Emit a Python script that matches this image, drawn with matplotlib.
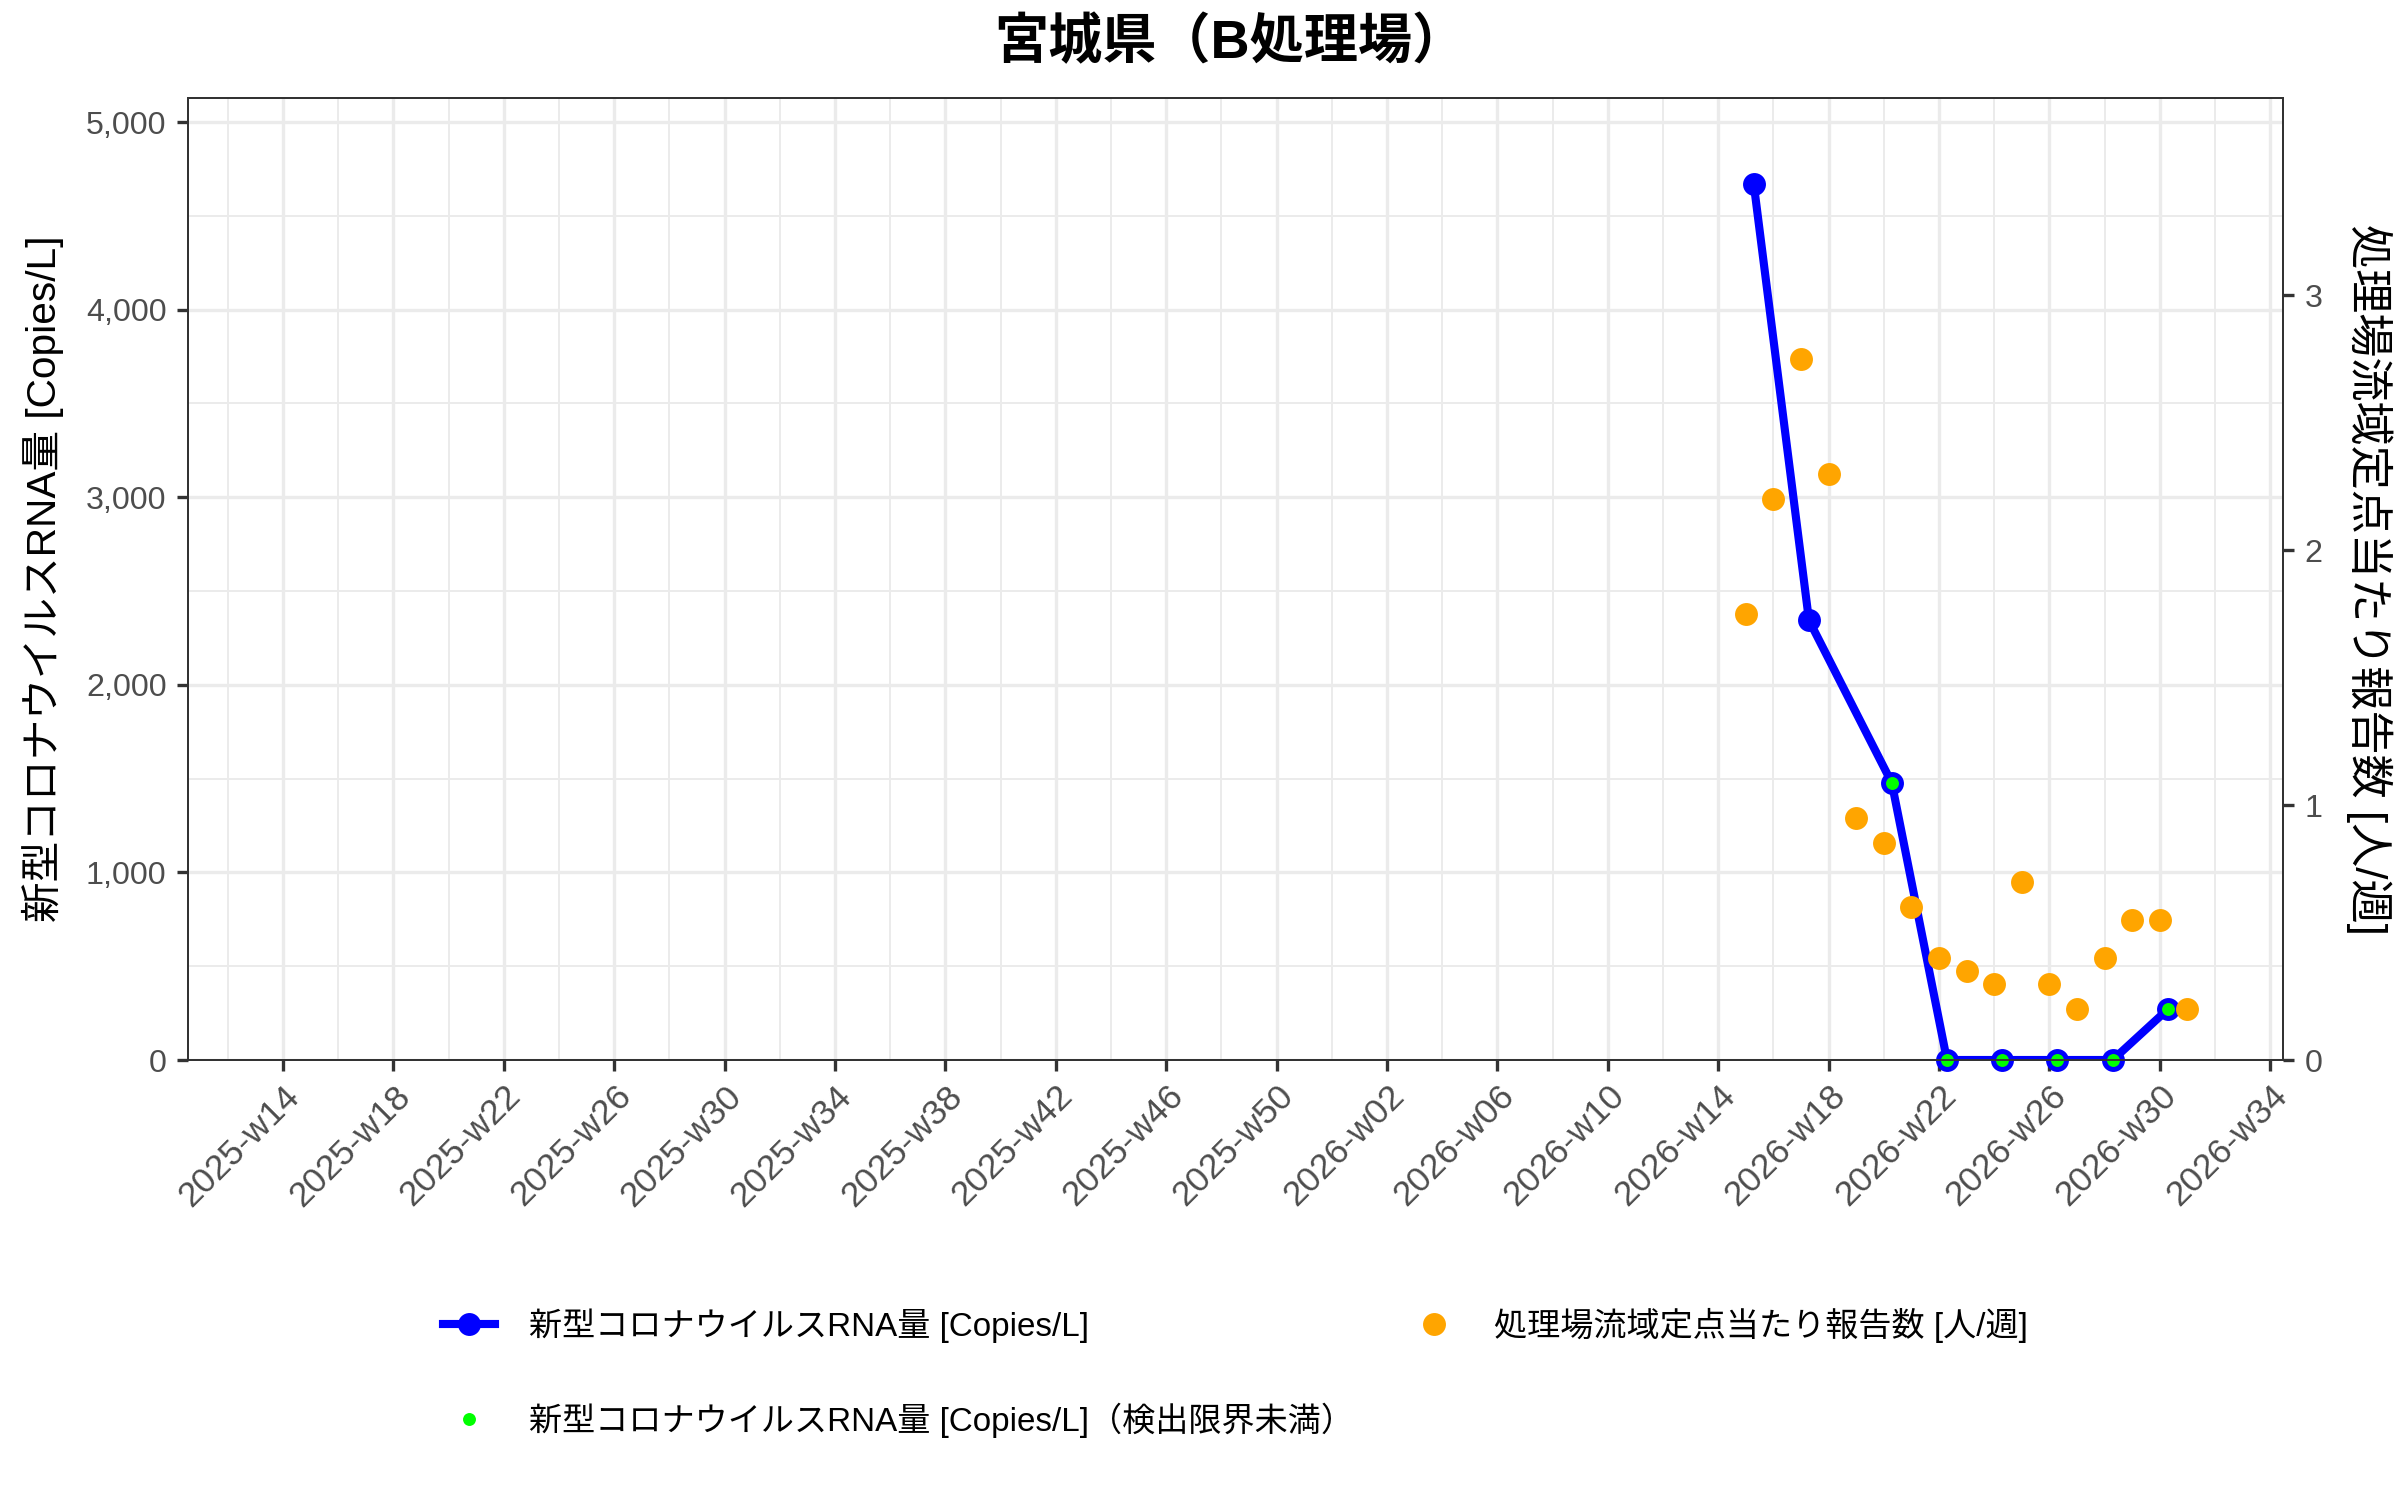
import matplotlib
matplotlib.use("Agg")
import matplotlib.pyplot as plt
from matplotlib.lines import Line2D
from matplotlib.font_manager import FontProperties
from matplotlib.ticker import FuncFormatter

# ---------------- data ----------------
title = "宮城県（B処理場）"
rna_label = "新型コロナウイルスRNA量 [Copies/L]"
rna_lod_label = "新型コロナウイルスRNA量 [Copies/L]（検出限界未満）"
cases_label = "処理場流域定点当たり報告数 [人/週]"

rna_weeks = ["2026-w15", "2026-w17", "2026-w20", "2026-w22",
             "2026-w24", "2026-w26", "2026-w28", "2026-w30"]
rna_values = [4670, 2344, 1478, 0, 0, 0, 0, 270]
rna_below_lod = [False, False, True, True, True, True, True, True]
rna_sample_day = 2  # days after week start (sampling day)

cases_weeks = ["2026-w15", "2026-w16", "2026-w17", "2026-w18", "2026-w19",
               "2026-w20", "2026-w21", "2026-w22", "2026-w23", "2026-w24",
               "2026-w25", "2026-w26", "2026-w27", "2026-w28", "2026-w29",
               "2026-w30", "2026-w31"]
cases_values = [1.75, 2.2, 2.75, 2.3, 0.95, 0.85, 0.6, 0.4, 0.35, 0.3,
                0.7, 0.3, 0.2, 0.4, 0.55, 0.55, 0.2]

x_tick_labels = ["2025-w14", "2025-w18", "2025-w22", "2025-w26", "2025-w30",
                 "2025-w34", "2025-w38", "2025-w42", "2025-w46", "2025-w50",
                 "2026-w02", "2026-w06", "2026-w10", "2026-w14", "2026-w18",
                 "2026-w22", "2026-w26", "2026-w30", "2026-w34"]
left_ticks = [0, 1000, 2000, 3000, 4000, 5000]
right_ticks = [0, 1, 2, 3]

# ---------------- helpers ----------------
WEEKS_2025 = 52
BASE_WEEK = 14


def week_index(label):
    year, wk = label.split("-w")
    year, wk = int(year), int(wk)
    idx = wk - BASE_WEEK
    if year == 2026:
        idx += WEEKS_2025
    return idx


rna_x = [week_index(w) + rna_sample_day / 7.0 for w in rna_weeks]
cases_x = [week_index(w) for w in cases_weeks]
xt = [week_index(l) for l in x_tick_labels]

# ---------------- figure ----------------
W, H = 2400, 1500
DPI = 150
fig = plt.figure(figsize=(W / DPI, H / DPI), dpi=DPI)
fig.patch.set_facecolor("white")

L, R, T, B = 188, 2283, 98, 1060
ax = fig.add_axes([L / W, 1 - B / H, (R - L) / W, (B - T) / H])
ax2 = ax.twinx()

jp = ["Liberation Sans", "Noto Sans CJK JP"]
tick_col = "#4D4D4D"
line_col = "#333333"
grid_col = "#EBEBEB"

ymax = 5128
scale = 1358.7
ax.set_ylim(0, ymax)
ax2.set_ylim(0, ymax / scale)
ax.set_xlim(-3.44, 72.46)

# grid
for v in xt:
    ax.axvline(v, color=grid_col, lw=1.6, zorder=0)
for v in [t - 2 for t in xt] + [xt[-1] + 2]:
    ax.axvline(v, color=grid_col, lw=0.95, zorder=0)
for v in left_ticks:
    ax.axhline(v, color=grid_col, lw=1.6, zorder=0)
for v in [t + 500 for t in left_ticks]:
    ax.axhline(v, color=grid_col, lw=0.95, zorder=0)

# RNA line & points
ax.plot(rna_x, rna_values, color="blue", lw=3.9, zorder=3,
        solid_joinstyle="round", solid_capstyle="round")
ax.plot(rna_x, rna_values, ls="none", marker="o", ms=11,
        mfc="blue", mec="blue", mew=0, zorder=4, clip_on=False)
lod_x = [x for x, f in zip(rna_x, rna_below_lod) if f]
lod_y = [y for y, f in zip(rna_values, rna_below_lod) if f]
ax.plot(lod_x, lod_y, ls="none", marker="o", ms=6.2,
        mfc="#00FF00", mec="#00FF00", mew=0, zorder=5, clip_on=False)

# cases
ax2.plot(cases_x, cases_values, ls="none", marker="o", ms=11,
         mfc="#FFA500", mec="#FFA500", mew=0, zorder=5)

# ticks
ax.set_xticks(xt)
ax.set_xticklabels(x_tick_labels, rotation=45, ha="right", va="top",
                   rotation_mode="anchor", fontsize=17, color=tick_col,
                   family="Liberation Sans")
ax.set_yticks(left_ticks)
ax.yaxis.set_major_formatter(FuncFormatter(lambda v, p: f"{int(v):,}"))
for lab in ax.get_yticklabels():
    lab.set_fontsize(15.5)
    lab.set_color(tick_col)
    lab.set_family("Liberation Sans")
ax2.set_yticks(right_ticks)
ax2.set_yticklabels([str(t) for t in right_ticks], fontsize=15.5,
                    color=tick_col, family="Liberation Sans")

ax.tick_params(axis="both", length=5.3, width=1.6, color=line_col, pad=5)
ax2.tick_params(axis="y", length=5.3, width=1.6, color=line_col, pad=5)
ax.tick_params(axis="x", pad=4)

for a in (ax, ax2):
    for s in a.spines.values():
        s.set_color(line_col)
        s.set_linewidth(0.9)

# labels
ax.set_ylabel(rna_label, family=jp, fontsize=19.5, color="black", va="center")
ax.yaxis.set_label_coords((43 - L) / (R - L), 0.5)
ax2.set_ylabel(cases_label, family=jp, fontsize=21.2, color="black",
               rotation=270, va="center")
ax2.yaxis.set_label_coords((2369 - L) / (R - L), 0.5)

fig.text(1230 / W, 1 - 43 / H, title, family=jp, fontsize=26,
         fontweight="bold", ha="center", va="center")

# legend
h_rna = Line2D([], [], color="blue", lw=3.9, marker="o", ms=11,
               mfc="blue", mec="blue", mew=0)
h_lod = Line2D([], [], ls="none", marker="o", ms=6.2,
               mfc="#00FF00", mec="#00FF00", mew=0)
h_cases = Line2D([], [], ls="none", marker="o", ms=11,
                 mfc="#FFA500", mec="#FFA500", mew=0)
fig.legend([h_rna, h_lod, h_cases], [rna_label, rna_lod_label, cases_label],
           ncol=2, loc="upper left", bbox_to_anchor=(443 / W, 1 - 1308 / H),
           frameon=False, handlelength=1.58, handletextpad=1.03,
           columnspacing=1.6, labelspacing=1.8, borderpad=0,
           borderaxespad=0, prop=FontProperties(family=jp, size=15.9))

fig.savefig("out.png", dpi=DPI, facecolor="white")
